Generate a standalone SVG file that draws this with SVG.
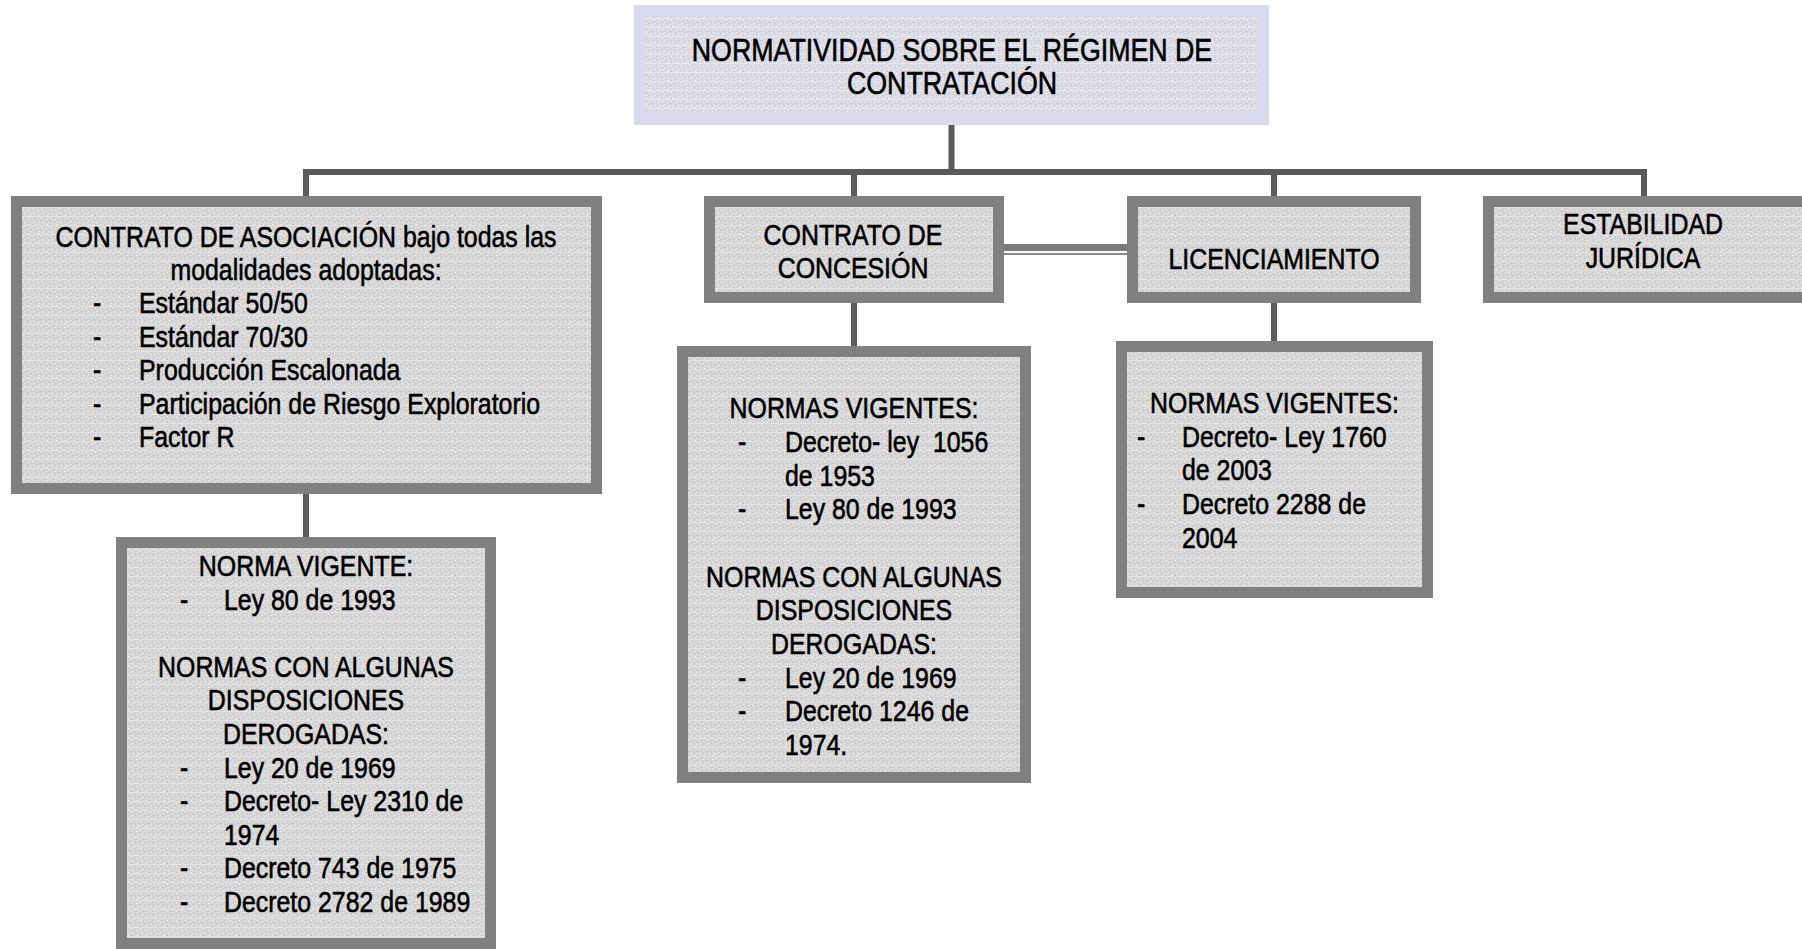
<svg xmlns="http://www.w3.org/2000/svg" width="1802" height="949" viewBox="0 0 1802 949">
  <defs>
    <!-- fine grainy fill used inside the grey boxes -->
    <pattern id="grain" width="9" height="9" patternUnits="userSpaceOnUse">
      <rect width="9" height="9" fill="#d6d6d6"/>
      <path d="M0 0h9v1H0z" fill="#e2e2e2"/>
      <path d="M1 3h1v1H1zM5 2h1v1H5zM3 6h1v1H3zM7 5h1v1H7zM2 8h1v1H2zM6 7h1v1H6z" fill="#f0f0f0"/>
      <path d="M4 4h1v1H4zM0 5h1v1H0zM8 2h1v1H8zM5 8h1v1H5z" fill="#bdbdbd"/>
    </pattern>
    <!-- lavender variant for the heading box -->
    <pattern id="grainLav" width="9" height="9" patternUnits="userSpaceOnUse">
      <rect width="9" height="9" fill="#dadae5"/>
      <path d="M0 0h9v1H0z" fill="#e7e7f0"/>
      <path d="M1 3h1v1H1zM5 2h1v1H5zM3 6h1v1H3zM7 5h1v1H7zM2 8h1v1H2zM6 7h1v1H6z" fill="#f1f1f7"/>
      <path d="M4 4h1v1H4zM0 5h1v1H0zM8 2h1v1H8zM5 8h1v1H5z" fill="#c4c4d1"/>
    </pattern>
  </defs>
  <style>
    .frame { fill: #808080; }
    .fill { fill: url(#grain); }
    .lavframe { fill: #dadaee; }
    .lavfill { fill: url(#grainLav); }
    .wire { stroke: #5a5a5a; stroke-width: 6; fill: none; }
    text { font-family: "Liberation Sans", Arial, sans-serif; font-size: 30px; fill: #000; stroke: #000; stroke-width: 0.6px; }
    .c { text-anchor: middle; }
    .title { font-size: 31.5px; }
  </style>

  <rect width="1802" height="949" fill="#ffffff"/>

  <!-- connectors -->
  <g id="connectors">
    <path class="wire" d="M951.5 125V172"/>
    <path class="wire" d="M306 172H1647"/>
    <path class="wire" d="M306 169V196M854 172V196M1274 172V196M1644 169V196"/>
    <path class="wire" d="M306 494V537M854 303V346M1274 303V341"/>
    <!-- double rule between concession and licensing -->
    <rect x="1004" y="244" width="123" height="7" fill="#7a7a7a"/>
    <rect x="1004" y="253" width="123" height="2" fill="#8a8a8a"/>
  </g>

  <!-- all labels are set in a narrow face: Liberation Sans squeezed horizontally -->
  <g id="node-title">
    <rect class="lavframe" x="634" y="5" width="635" height="120"/>
    <rect class="lavfill" x="645" y="17" width="613" height="96"/>
    <text class="c title" transform="matrix(0.85 0 0 1 952 61)">NORMATIVIDAD SOBRE EL RÉGIMEN DE</text>
    <text class="c title" transform="matrix(0.85 0 0 1 952 94)">CONTRATACIÓN</text>
  </g>

  <g id="node-asociacion">
    <rect class="frame" x="11" y="196" width="591" height="298"/>
    <rect class="fill" x="22" y="207" width="569" height="276"/>
    <text class="c" transform="matrix(0.83 0 0 1 306 247)">CONTRATO DE ASOCIACIÓN bajo todas las</text>
    <text class="c" transform="matrix(0.83 0 0 1 306 280)">modalidades adoptadas:</text>
    <text transform="matrix(0.83 0 0 1 93 313)">-</text><text transform="matrix(0.83 0 0 1 139 313)">Estándar 50/50</text>
    <text transform="matrix(0.83 0 0 1 93 346.5)">-</text><text transform="matrix(0.83 0 0 1 139 346.5)">Estándar 70/30</text>
    <text transform="matrix(0.83 0 0 1 93 380)">-</text><text transform="matrix(0.83 0 0 1 139 380)">Producción Escalonada</text>
    <text transform="matrix(0.83 0 0 1 93 413.5)">-</text><text transform="matrix(0.83 0 0 1 139 413.5)">Participación de Riesgo Exploratorio</text>
    <text transform="matrix(0.83 0 0 1 93 447)">-</text><text transform="matrix(0.83 0 0 1 139 447)">Factor R</text>
  </g>

  <g id="node-asociacion-normas">
    <rect class="frame" x="116" y="537" width="380" height="412"/>
    <rect class="fill" x="127" y="548" width="358" height="390"/>
    <text class="c" transform="matrix(0.83 0 0 1 306 576)">NORMA VIGENTE:</text>
    <text transform="matrix(0.83 0 0 1 180 609.6)">-</text><text transform="matrix(0.83 0 0 1 224 609.6)">Ley 80 de 1993</text>
    <text class="c" transform="matrix(0.83 0 0 1 306 676.8)">NORMAS CON ALGUNAS</text>
    <text class="c" transform="matrix(0.83 0 0 1 306 710.4)">DISPOSICIONES</text>
    <text class="c" transform="matrix(0.83 0 0 1 306 744)">DEROGADAS:</text>
    <text transform="matrix(0.83 0 0 1 180 777.6)">-</text><text transform="matrix(0.83 0 0 1 224 777.6)">Ley 20 de 1969</text>
    <text transform="matrix(0.83 0 0 1 180 811.2)">-</text><text transform="matrix(0.83 0 0 1 224 811.2)">Decreto- Ley 2310 de</text>
    <text transform="matrix(0.83 0 0 1 224 844.8)">1974</text>
    <text transform="matrix(0.83 0 0 1 180 878.4)">-</text><text transform="matrix(0.83 0 0 1 224 878.4)">Decreto 743 de 1975</text>
    <text transform="matrix(0.83 0 0 1 180 912)">-</text><text transform="matrix(0.83 0 0 1 224 912)">Decreto 2782 de 1989</text>
  </g>

  <g id="node-concesion">
    <rect class="frame" x="704" y="196" width="300" height="107"/>
    <rect class="fill" x="715" y="207" width="278" height="85"/>
    <text class="c" transform="matrix(0.83 0 0 1 853 245)">CONTRATO DE</text>
    <text class="c" transform="matrix(0.83 0 0 1 853 278)">CONCESIÓN</text>
  </g>

  <g id="node-concesion-normas">
    <rect class="frame" x="677" y="346" width="354" height="437"/>
    <rect class="fill" x="688" y="357" width="332" height="415"/>
    <text class="c" transform="matrix(0.83 0 0 1 854 418)">NORMAS VIGENTES:</text>
    <text transform="matrix(0.83 0 0 1 738 452)">-</text><text xml:space="preserve" transform="matrix(0.83 0 0 1 785 452)">Decreto- ley  1056</text>
    <text transform="matrix(0.83 0 0 1 785 486)">de 1953</text>
    <text transform="matrix(0.83 0 0 1 738 519)">-</text><text transform="matrix(0.83 0 0 1 785 519)">Ley 80 de 1993</text>
    <text class="c" transform="matrix(0.83 0 0 1 854 587)">NORMAS CON ALGUNAS</text>
    <text class="c" transform="matrix(0.83 0 0 1 854 620)">DISPOSICIONES</text>
    <text class="c" transform="matrix(0.83 0 0 1 854 654)">DEROGADAS:</text>
    <text transform="matrix(0.83 0 0 1 738 688)">-</text><text transform="matrix(0.83 0 0 1 785 688)">Ley 20 de 1969</text>
    <text transform="matrix(0.83 0 0 1 738 721)">-</text><text transform="matrix(0.83 0 0 1 785 721)">Decreto 1246 de</text>
    <text transform="matrix(0.83 0 0 1 785 755)">1974.</text>
  </g>

  <g id="node-licenciamiento">
    <rect class="frame" x="1127" y="196" width="294" height="107"/>
    <rect class="fill" x="1138" y="207" width="272" height="85"/>
    <text class="c" transform="matrix(0.83 0 0 1 1274 269)">LICENCIAMIENTO</text>
  </g>

  <g id="node-licenciamiento-normas">
    <rect class="frame" x="1116" y="341" width="317" height="257"/>
    <rect class="fill" x="1127" y="352" width="295" height="235"/>
    <text class="c" transform="matrix(0.83 0 0 1 1274.5 413)">NORMAS VIGENTES:</text>
    <text transform="matrix(0.83 0 0 1 1137 447)">-</text><text transform="matrix(0.83 0 0 1 1182 447)">Decreto- Ley 1760</text>
    <text transform="matrix(0.83 0 0 1 1182 480)">de 2003</text>
    <text transform="matrix(0.83 0 0 1 1137 514)">-</text><text transform="matrix(0.83 0 0 1 1182 514)">Decreto 2288 de</text>
    <text transform="matrix(0.83 0 0 1 1182 548)">2004</text>
  </g>

  <g id="node-estabilidad">
    <rect class="frame" x="1483" y="196" width="319" height="107"/>
    <rect class="fill" x="1494" y="207" width="308" height="85"/>
    <text class="c" transform="matrix(0.83 0 0 1 1643 234)">ESTABILIDAD</text>
    <text class="c" transform="matrix(0.83 0 0 1 1643 268)">JURÍDICA</text>
  </g>
</svg>
